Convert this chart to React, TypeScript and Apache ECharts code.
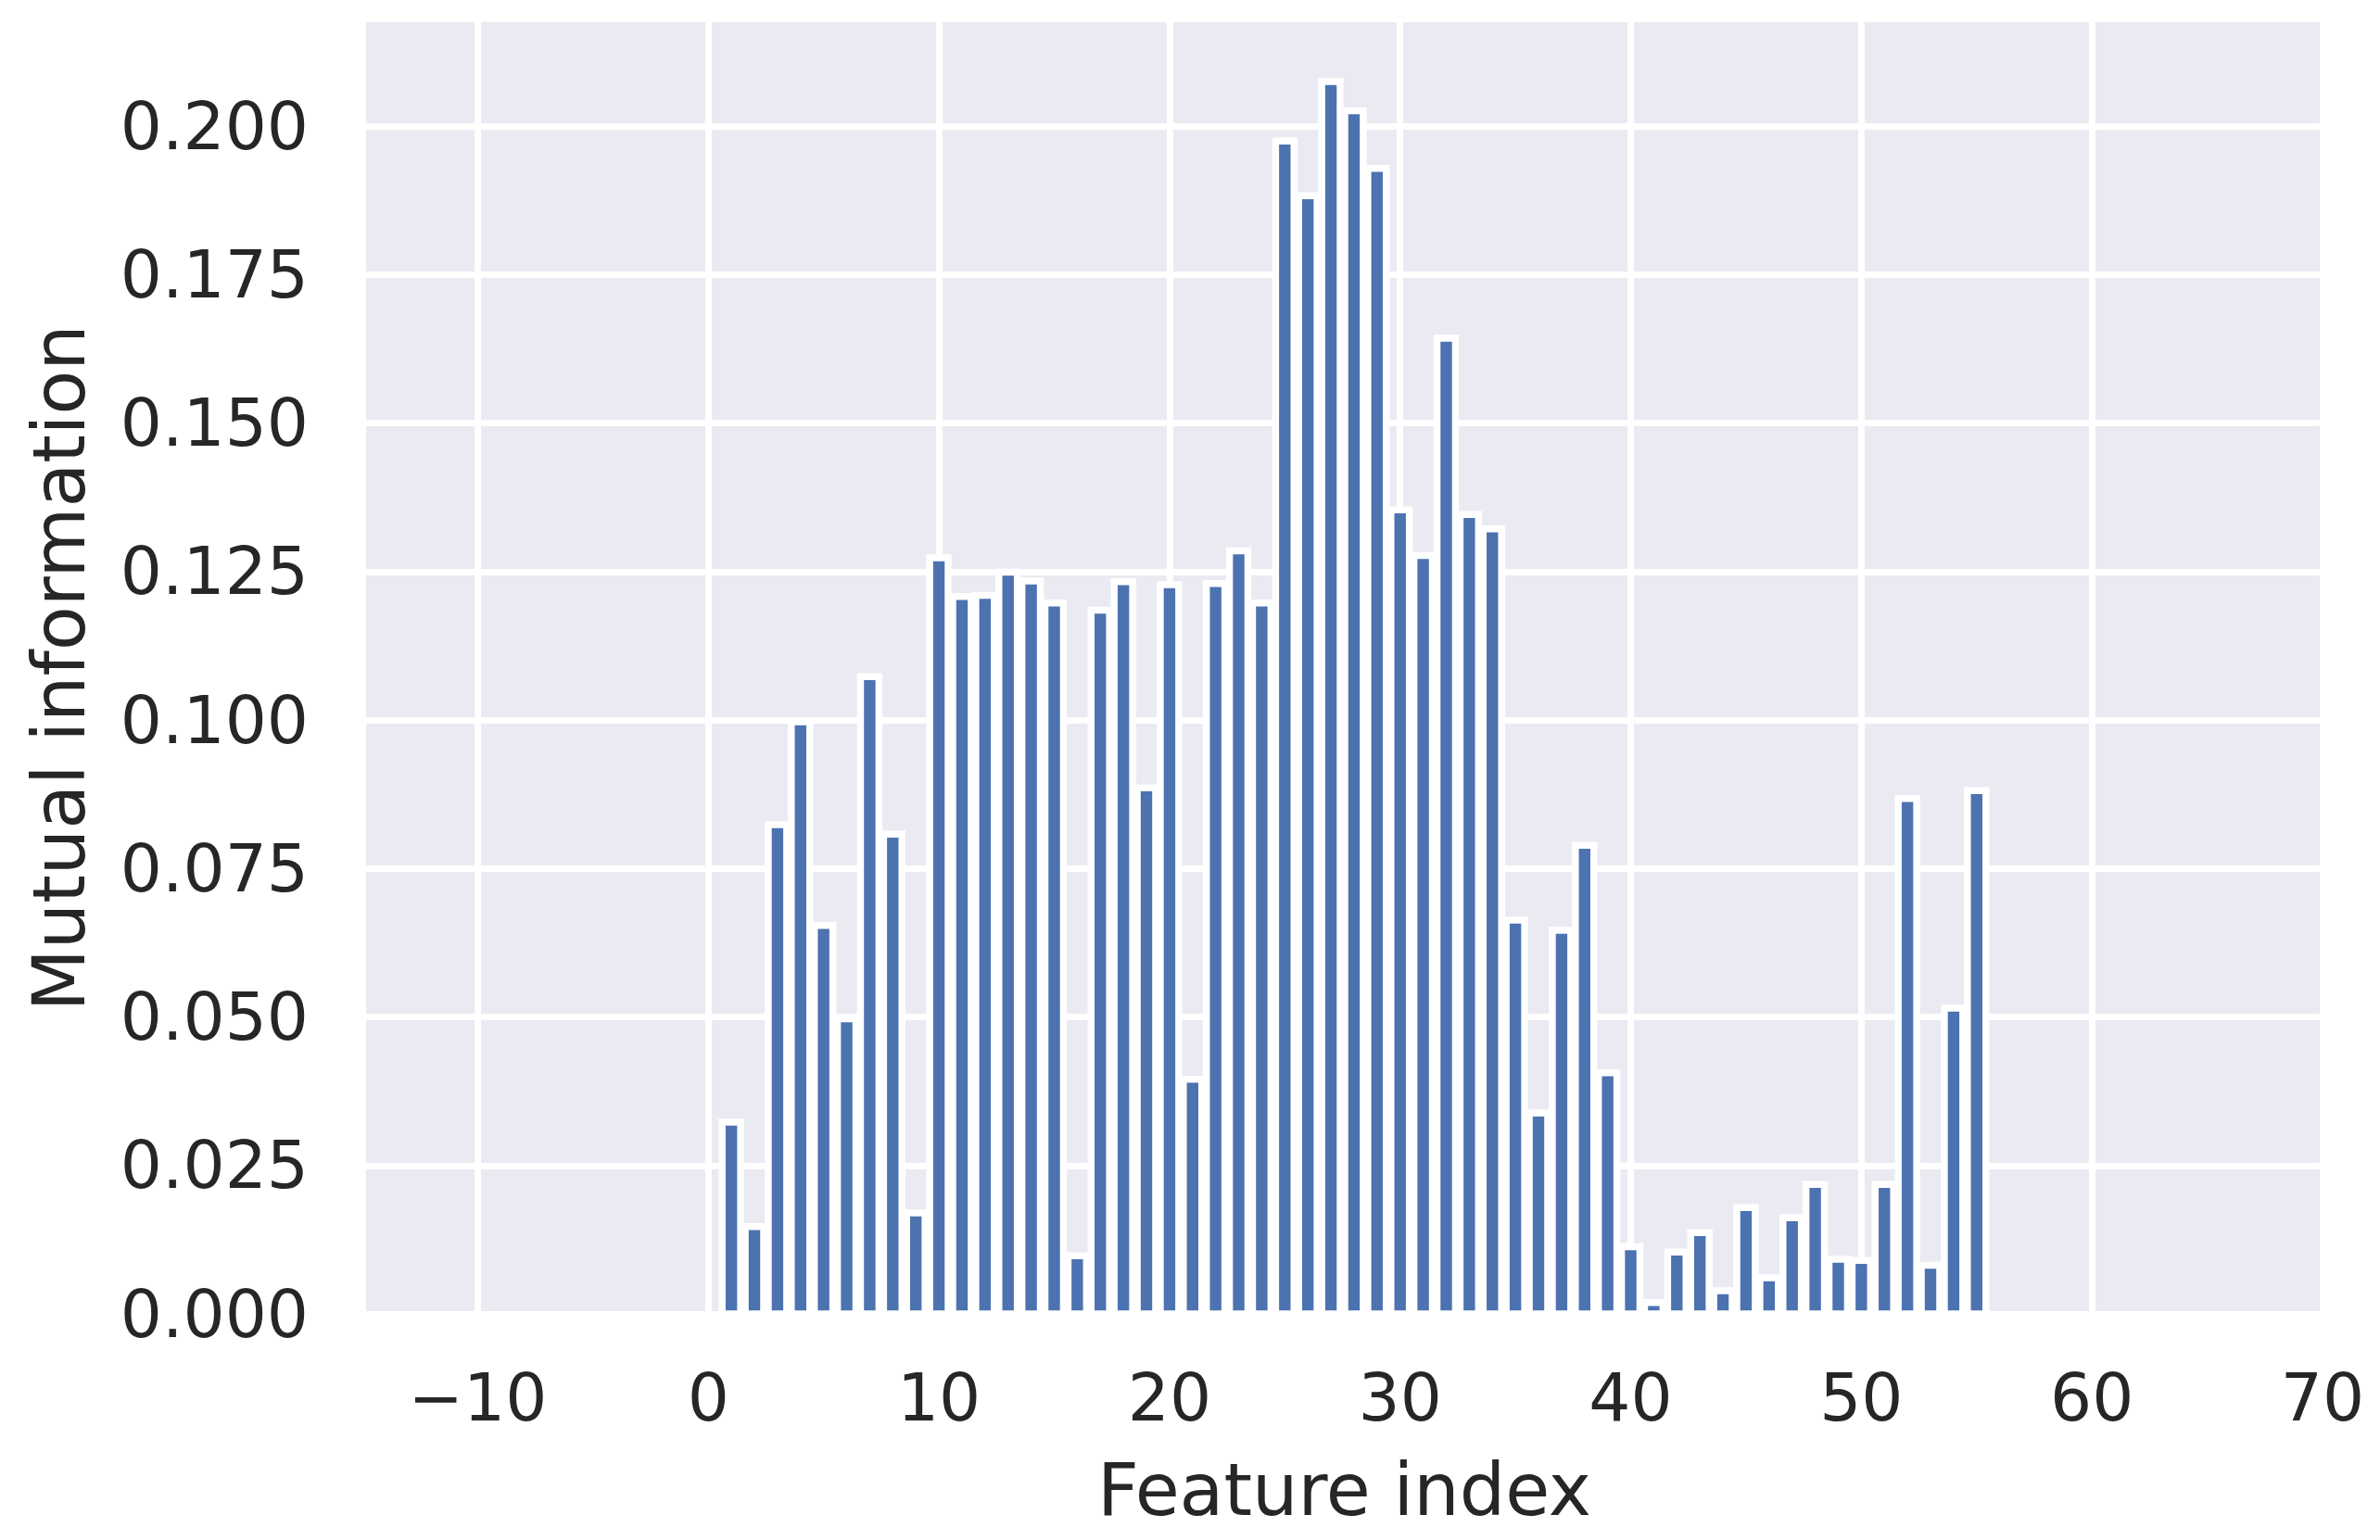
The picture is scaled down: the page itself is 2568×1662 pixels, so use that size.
import React, { useEffect, useRef } from "react";
import * as echarts from "echarts";

const featureIndex = [
  1, 2, 3, 4, 5, 6, 7, 8, 9, 10, 11, 12, 13, 14, 15, 16, 17, 18, 19, 20,
  21, 22, 23, 24, 25, 26, 27, 28, 29, 30, 31, 32, 33, 34, 35, 36, 37, 38, 39, 40,
  41, 42, 43, 44, 45, 46, 47, 48, 49, 50, 51, 52, 53, 54, 55,
];

const mutualInfo = [
  0.0323, 0.0147, 0.0824, 0.0997, 0.0654, 0.0497, 0.1073, 0.0808, 0.017, 0.1273,
  0.1208, 0.121, 0.1249, 0.1234, 0.1197, 0.0098, 0.1185, 0.1233, 0.0886, 0.1228,
  0.0395, 0.123, 0.1285, 0.1197, 0.1975, 0.1883, 0.2075, 0.2026, 0.1929, 0.1354,
  0.1277, 0.1643, 0.1346, 0.1322, 0.0663, 0.0338, 0.0646, 0.0789, 0.0406, 0.0113,
  0.0019, 0.0104, 0.0137, 0.0039, 0.0179, 0.0061, 0.0162, 0.0218, 0.0092, 0.009,
  0.0218, 0.0868, 0.0082, 0.0515, 0.0881,
];

const xTicks = [-10, 0, 10, 20, 30, 40, 50, 60, 70];
const yTicks = [0, 0.025, 0.05, 0.075, 0.1, 0.125, 0.15, 0.175, 0.2];

const X_MIN = -14.84;
const X_MAX = 70;
const Y_MAX = 0.2175;
const BAR_WIDTH = 0.8;

const TEXT = "#262626";
const FONT = "DejaVu Sans";
const BAR_COLOR = "#4C72B0";

export default function App() {
  const ref = useRef<HTMLDivElement>(null);

  useEffect(() => {
    document.body.style.margin = "0";
    if (!ref.current) return;
    const chart = echarts.init(ref.current, undefined, { renderer: "svg" });

    chart.setOption({
      animation: false,
      backgroundColor: "#ffffff",
      textStyle: { fontFamily: FONT },
      grid: {
        left: 395,
        right: 62,
        top: 24,
        bottom: 244,
        containLabel: false,
        outerBoundsMode: "none",
        show: true,
        backgroundColor: "#EAEAF2",
        borderWidth: 0,
      },
      xAxis: {
        type: "value",
        min: X_MIN,
        max: X_MAX,
        name: "Feature index",
        nameLocation: "middle",
        nameGap: 151,
        nameTextStyle: { color: TEXT, fontSize: 78, fontFamily: FONT },
        axisLine: { show: false },
        axisTick: { show: false, customValues: xTicks },
        axisLabel: {
          customValues: xTicks,
          color: TEXT,
          fontSize: 71,
          fontFamily: FONT,
          margin: 55,
          formatter: (v: number) => String(v).replace("-", "\u2212"),
        },
        splitLine: { show: true, lineStyle: { color: "#ffffff", width: 7 } },
      },
      yAxis: {
        type: "value",
        min: 0,
        max: Y_MAX,
        name: "Mutual information",
        nameLocation: "middle",
        nameGap: 292,
        nameTextStyle: { color: TEXT, fontSize: 78, fontFamily: FONT },
        axisLine: { show: false },
        axisTick: { show: false, customValues: yTicks },
        axisLabel: {
          customValues: yTicks,
          color: TEXT,
          fontSize: 71,
          fontFamily: FONT,
          margin: 62,
          formatter: (v: number) => v.toFixed(3),
        },
        splitLine: { show: true, lineStyle: { color: "#ffffff", width: 7 } },
      },
      series: [
        {
          type: "custom",
          encode: { x: 0, y: 1 },
          data: featureIndex.map((x, i) => [x, mutualInfo[i]]),
          renderItem: (params: any, api: any) => {
            const x = api.value(0);
            const y = api.value(1);
            const p0 = api.coord([x - BAR_WIDTH / 2, 0]);
            const p1 = api.coord([x + BAR_WIDTH / 2, y]);
            return {
              type: "rect",
              shape: {
                x: p0[0],
                y: p1[1],
                width: p1[0] - p0[0],
                height: p0[1] - p1[1],
              },
              style: {
                fill: BAR_COLOR,
                stroke: "#ffffff",
                lineWidth: 7.5,
              },
            };
          },
          emphasis: { disabled: true },
        },
      ],
    });

    return () => chart.dispose();
  }, []);

  return <div ref={ref} style={{ width: 2568, height: 1662 }} />;
}
